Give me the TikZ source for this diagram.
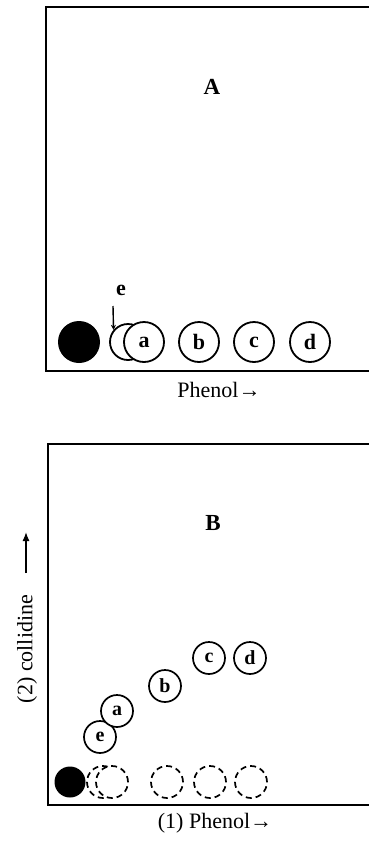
\documentclass[tikz,border=0pt]{standalone}
\usepackage{fontspec}
\setmainfont{Liberation Serif}
\usetikzlibrary{arrows.meta}
\newcommand{\txtfont}{\fontsize{22}{26}\selectfont}
\newcommand{\ltrfont}{\fontsize{22}{26}\selectfont\bfseries}
\newcommand{\ltrfontsm}{\fontsize{20}{24}\selectfont\bfseries}
\tikzset{
  frame/.style={line width=1.8pt, line cap=rect},
  spot/.style={circle, draw, line width=1.8pt, fill=white, inner sep=0pt, minimum size=40pt, font=\ltrfont},
  bigdot/.style={circle, fill=black, inner sep=0pt, minimum size=42pt},
  spotsm/.style={circle, draw, line width=1.7pt, fill=white, inner sep=0pt, minimum size=32pt, font=\ltrfontsm},
  dotsm/.style={circle, fill=black, inner sep=0pt, minimum size=31pt},
  dashspot/.style={spotsm, dash pattern=on 6pt off 4pt},
  axlabel/.style={font=\txtfont, inner sep=0pt},
  panel/.style={font=\fontsize{23}{26}\selectfont\bfseries, inner sep=0pt}
}
\begin{document}
\begin{tikzpicture}[x=1pt, y=-1pt]
\useasboundingbox (0,0) rectangle (369,841);
% ---------- Panel A ----------
\draw[frame] (369,7) -- (46,7) -- (46,371) -- (369,371);
\node[panel] (labA) at (212,87) {A};
\node[bigdot] (Aorig) at (79,342) {};
\node[circle, draw, line width=1.8pt, fill=white, inner sep=0pt, minimum size=36pt] (Ae) at (128,342) {};
\node[spot] (Aa) at (144,342) {a};
\node[spot] (Ab) at (199,342) {b};
\node[spot] (Ac) at (254,342) {c};
\node[spot] (Ad) at (310,342) {d};
\node[font=\ltrfont, inner sep=1pt] (Aelab) at (121,290) {e};
\coordinate (Aetop) at (113,306);
\coordinate (Aetip) at (Ae.140);
\draw[line width=1.4pt, -{Stealth[length=5pt,width=5pt]}] (Aetop) -- (Aetip);
\node[axlabel] (Aaxis) at (219,390) {Phenol→};
% ---------- Panel B ----------
\draw[frame] (369,444) -- (48,444) -- (48,805) -- (369,805);
\node[panel] (labB) at (213,523) {B};
\node[axlabel] (Baxis) at (215,823) {(1) Phenol→};
\node[axlabel, rotate=90] (Bcoll) at (27,649) {(2) collidine};
\coordinate (Barrlo) at (26,573);
\coordinate (Barrhi) at (26,532);
\draw[line width=1.3pt, -{Latex[length=9pt,width=7pt]}] (Barrlo) -- (Barrhi);
% dashed original positions
\node[dashspot] (Bde) at (103,782) {};
\node[dashspot] (Bda) at (112,782) {};
\node[dashspot] (Bdb) at (167,782) {};
\node[dashspot] (Bdc) at (210,782) {};
\node[dashspot] (Bdd) at (251,782) {};
\node[dotsm] (Borig) at (70,782) {};
% developed spots
\node[spotsm] (Be) at (100,737) {e};
\node[spotsm] (Ba) at (117,711) {a};
\node[spotsm] (Bb) at (165,686) {b};
\node[spotsm] (Bc) at (209,658) {c};
\node[spotsm] (Bd) at (250,658) {d};
\end{tikzpicture}
\end{document}
